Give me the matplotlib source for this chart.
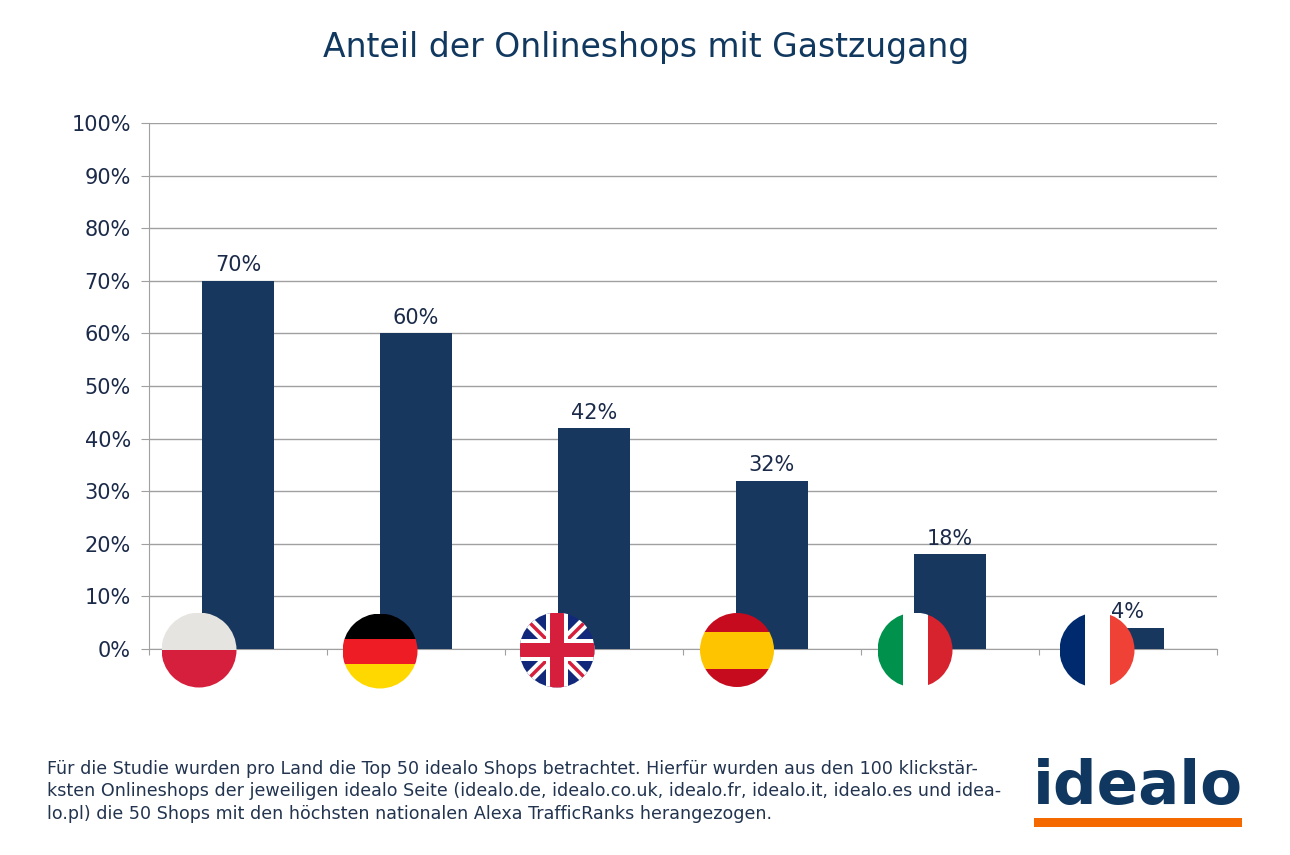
import matplotlib
matplotlib.use("Agg")
import matplotlib.pyplot as plt
from matplotlib.patches import Circle, Rectangle

plt.rcParams['font.family'] = ['DejaVu Sans']

countries = ["PL", "DE", "UK", "ES", "IT", "FR"]
shares = [70, 60, 42, 32, 18, 4]
y_ticks = [0, 10, 20, 30, 40, 50, 60, 70, 80, 90, 100]

footer_lines = [
    "Für die Studie wurden pro Land die Top 50 idealo Shops betrachtet. Hierfür wurden aus den 100 klickstär-",
    "ksten Onlineshops der jeweiligen idealo Seite (idealo.de, idealo.co.uk, idealo.fr, idealo.it, idealo.es und idea-",
    "lo.pl) die 50 Shops mit den höchsten nationalen Alexa TrafficRanks herangezogen.",
]

W, H = 1290, 855
navy = "#18375f"
text_col = "#1b2a49"
grid_col = "#a0a0a0"

fig = plt.figure(figsize=(W / 100, H / 100), dpi=100, facecolor="white")

# axes placed in pixels: x 149-1217, y 123-649
ax = fig.add_axes([149 / W, 1 - 649 / H, (1217 - 149) / W, (649 - 123) / H])
ax.bar(range(len(shares)), shares, width=0.405, color=navy, zorder=3)
ax.set_xlim(-0.5, 5.5)
ax.set_ylim(0, 100)
ax.set_yticks(y_ticks)
ax.set_yticklabels([str(v) + "%" for v in y_ticks], fontsize=15, color=text_col)
ax.set_xticks([i - 0.5 for i in range(7)])
ax.set_xticklabels([])
ax.grid(axis="y", color=grid_col, lw=1, zorder=1)
ax.tick_params(axis="y", length=6, color=grid_col, pad=7)
ax.tick_params(axis="x", length=4, color=grid_col)
for s in ["top", "right"]:
    ax.spines[s].set_visible(False)
for s in ["left", "bottom"]:
    ax.spines[s].set_color(grid_col)
ax.set_axisbelow(True)

for i, v in enumerate(shares):
    ax.annotate(str(v) + "%", (i, v), xytext=(0, 4), textcoords="offset points",
                ha="center", va="bottom", fontsize=15, color=text_col, zorder=6)

# overlay in pixel coordinates for flags and logo
ov = fig.add_axes([0, 0, 1, 1])
ov.set_xlim(0, W)
ov.set_ylim(H, 0)
ov.axis("off")
ov.patch.set_alpha(0)


def flag(cx, cy, r, stripes, vertical=False):
    # stripes: list of (start, end, colour) as fractions of the diameter
    clip = Circle((cx, cy), r, transform=ov.transData)
    for a, b, c in stripes:
        if vertical:
            p = Rectangle((cx - r + a * 2 * r, cy - r), (b - a) * 2 * r, 2 * r, color=c, lw=0)
        else:
            p = Rectangle((cx - r, cy - r + a * 2 * r), 2 * r, (b - a) * 2 * r, color=c, lw=0)
        ov.add_patch(p)
        p.set_clip_path(clip)


flag(199, 650, 37.5, [(0, 0.5, "#e6e4e1"), (0.5, 1, "#d61f3c")])
flag(380, 651, 37.5, [(0, 1 / 3, "#000000"), (1 / 3, 2 / 3, "#ee1c25"), (2 / 3, 1, "#ffd800")])

# union jack
ux, uy, ur = 557, 650, 37.5
uk_clip = Circle((ux, uy), ur, transform=ov.transData)
bg = Rectangle((ux - ur, uy - ur), 2 * ur, 2 * ur, color="#12297b", lw=0, zorder=2)
ov.add_patch(bg)
bg.set_clip_path(uk_clip)
for sign in [1, -1]:
    ln = ov.plot([ux - ur, ux + ur], [uy - sign * ur, uy + sign * ur],
                 color="white", lw=8, solid_capstyle="butt", zorder=3)[0]
    ln.set_clip_path(uk_clip)
    ln = ov.plot([ux - ur, ux + ur], [uy - sign * ur, uy + sign * ur],
                 color="#d61f3c", lw=2.5, solid_capstyle="butt", zorder=4)[0]
    ln.set_clip_path(uk_clip)
for half, col, z in [(11, "white", 5), (7, "#d61f3c", 6)]:
    for r in [Rectangle((ux - half, uy - ur), 2 * half, 2 * ur, color=col, lw=0, zorder=z),
              Rectangle((ux - ur, uy - half), 2 * ur, 2 * half, color=col, lw=0, zorder=z)]:
        ov.add_patch(r)
        r.set_clip_path(uk_clip)

flag(737, 650, 37, [(0, 0.25, "#c60b1e"), (0.25, 0.75, "#ffc400"), (0.75, 1, "#c60b1e")])
flag(915, 650, 37.5, [(0, 1 / 3, "#00914c"), (1 / 3, 2 / 3, "#ffffff"), (2 / 3, 1, "#d6232e")], vertical=True)
flag(1097, 650, 37.5, [(0, 1 / 3, "#002a6e"), (1 / 3, 2 / 3, "#ffffff"), (2 / 3, 1, "#ef4135")], vertical=True)

# title
ov.text(646.5, 48, "Anteil der Onlineshops mit Gastzugang", ha="center", va="center",
        fontsize=23.8, color="#11385f")

# footer
for line, y in zip(footer_lines, [769, 791, 814]):
    ov.text(47, y, line, ha="left", va="center", fontsize=12.6, color="#22344f")

# logo
ov.text(1138, 787, "idealo", ha="center", va="center", fontsize=44, fontweight="bold",
        color="#10375f")
ov.add_patch(Rectangle((1034, 818), 208, 9, color="#f56a00", lw=0))

fig.savefig("out.png", dpi=100)
